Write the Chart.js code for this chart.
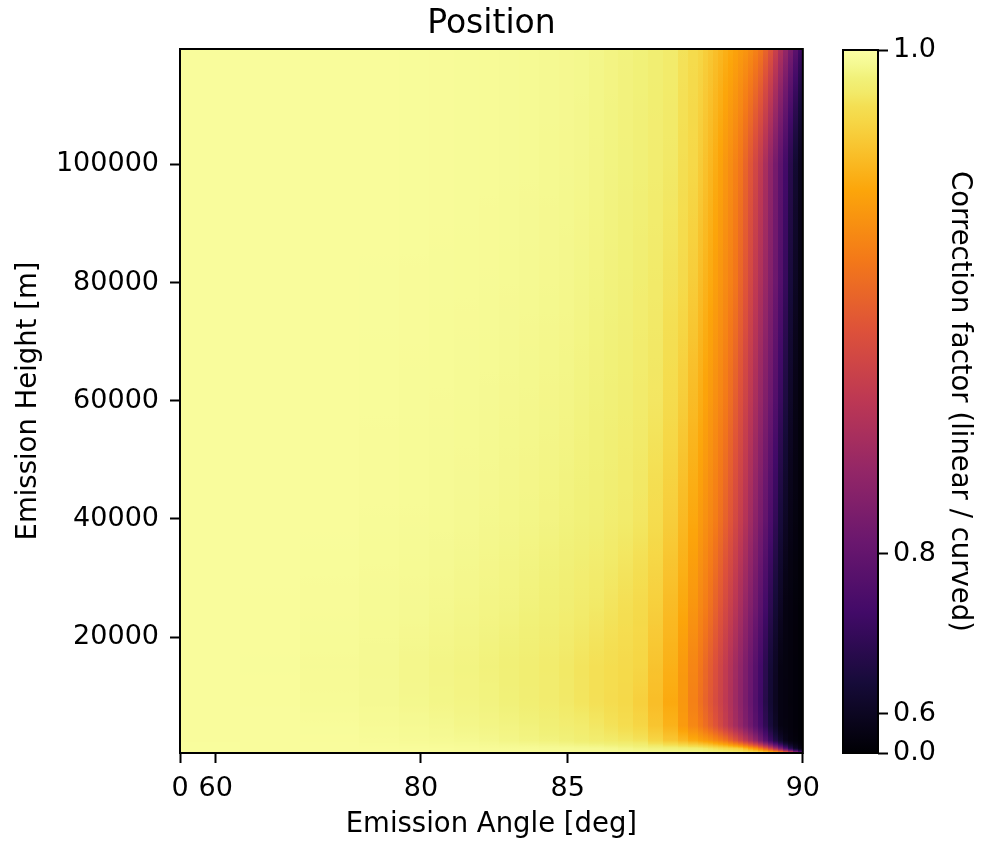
<!DOCTYPE html>
<html>
<head>
<meta charset="utf-8">
<title>Position</title>
<script src="https://cdn.jsdelivr.net/npm/chart.js@4.4.1/dist/chart.umd.min.js"></script>
<style>
  body { margin: 0; background: #fff; }
  #wrap { position: relative; width: 988px; height: 841px; }
  #main { position: absolute; left: 0; top: 0; }
  #cbar { position: absolute; left: 830px; top: 0; }
</style>
</head>
<body>
<div id="wrap">
  <canvas id="main" width="830" height="841"></canvas>
  <canvas id="cbar" width="158" height="841"></canvas>
</div>
<script>
// Grid: heights (rows, top to bottom) and column edges in grid index units
const heights = [119500, 100000, 80000, 60000, 40000, 25000, 15000, 9000, 5000, 2500, 1200, 400];
const colEdges = [0, 12, 24, 36, 44, 50, 55, 60, 64, 68, 72, 76, 79, 82, 85, 88, 91, 94, 97, 100, 102, 104,
  105, 106, 107, 108, 109, 110, 111, 112, 113, 114, 115, 116, 117, 118, 119, 120, 121, 122, 123, 124, 125];

// Tick labels
const angleTicks = [0, 60, 80, 85, 90];
const angleTickCols = [0, 7.16, 48.35, 77.8, 125];
const heightTicks = [20000, 40000, 60000, 80000, 100000];
const cbTicks = [0.0, 0.6, 0.8, 1.0];

// Correction factor (linear / curved), one row per height
const row119500 = [.9985,.9984,.9983,.9983,.9981,.9979,.9977,.9974,.9972,.9968,.9965,.9962,.9959,.9951,.9943,.9935,.9927,.9913,.9898,.9863,.9834,.9811,.9781,.9752,.9722,.9691,.9660,.9630,.9598,.9565,.9535,.9491,.9438,.9376,.9271,.9146,.8961,.8744,.8516,.8248,.7906,.7484];
const row100000 = [.9985,.9984,.9983,.9983,.9981,.9979,.9977,.9974,.9972,.9968,.9963,.9960,.9956,.9948,.9940,.9932,.9923,.9907,.9888,.9851,.9820,.9770,.9730,.9689,.9647,.9598,.9547,.9495,.9439,.9374,.9272,.9164,.9032,.8888,.8698,.8473,.8215,.7914,.7551,.7067,.6494,.5846];
const row80000 = [.9985,.9984,.9983,.9982,.9979,.9976,.9974,.9972,.9968,.9964,.9960,.9956,.9949,.9941,.9933,.9925,.9910,.9892,.9865,.9829,.9773,.9713,.9673,.9629,.9583,.9535,.9485,.9434,.9374,.9272,.9164,.9032,.8885,.8728,.8553,.8344,.8101,.7779,.7350,.6715,.6088,.5376];
const row60000 = [.9985,.9984,.9983,.9980,.9976,.9973,.9970,.9966,.9961,.9957,.9952,.9947,.9939,.9931,.9923,.9912,.9897,.9879,.9836,.9777,.9705,.9648,.9601,.9554,.9506,.9454,.9401,.9318,.9222,.9118,.8991,.8854,.8692,.8517,.8320,.8099,.7779,.7372,.6844,.6222,.5508,.4906];
const row40000 = [.9985,.9984,.9983,.9977,.9973,.9969,.9964,.9959,.9954,.9949,.9942,.9934,.9927,.9920,.9908,.9895,.9879,.9839,.9778,.9698,.9626,.9561,.9515,.9464,.9412,.9339,.9251,.9160,.9050,.8929,.8790,.8621,.8435,.8233,.7990,.7683,.7279,.6708,.6165,.5545,.5134,.4484];
const row25000 = [.9985,.9983,.9978,.9970,.9965,.9959,.9952,.9946,.9941,.9931,.9921,.9911,.9899,.9886,.9871,.9853,.9830,.9784,.9705,.9626,.9537,.9464,.9412,.9339,.9251,.9158,.9054,.8945,.8825,.8676,.8513,.8333,.8134,.7875,.7548,.7138,.6592,.6057,.5290,.5026,.4628,.4101];
const row15000 = [.9985,.9982,.9972,.9965,.9955,.9947,.9941,.9932,.9922,.9911,.9901,.9886,.9871,.9857,.9843,.9829,.9811,.9737,.9660,.9555,.9458,.9375,.9294,.9209,.9119,.9011,.8897,.8772,.8631,.8478,.8296,.8093,.7839,.7545,.7138,.6599,.6091,.5350,.5130,.4848,.4495,.3915];
const row9000 = [.9985,.9983,.9974,.9966,.9958,.9950,.9944,.9938,.9927,.9915,.9904,.9889,.9873,.9858,.9841,.9825,.9787,.9715,.9631,.9546,.9433,.9342,.9261,.9174,.9080,.8979,.8872,.8745,.8601,.8441,.8255,.8045,.7782,.7471,.7035,.6509,.5958,.5305,.5090,.4802,.4466,.3901];
const row5000 = [.9985,.9984,.9981,.9973,.9967,.9961,.9953,.9947,.9941,.9932,.9920,.9909,.9900,.9882,.9864,.9842,.9811,.9742,.9668,.9562,.9471,.9400,.9326,.9243,.9157,.9047,.8926,.8799,.8661,.8512,.8333,.8134,.7891,.7606,.7223,.6701,.6145,.5350,.5130,.4848,.4495,.3915];
const row2500 = [.9985,.9984,.9983,.9978,.9973,.9969,.9965,.9958,.9950,.9943,.9936,.9927,.9916,.9905,.9894,.9883,.9869,.9811,.9753,.9698,.9643,.9601,.9573,.9540,.9488,.9434,.9372,.9272,.9164,.9032,.8885,.8711,.8515,.8234,.7890,.7465,.6963,.6392,.5678,.5149,.4744,.4166];
const row1200 = [.9986,.9985,.9984,.9983,.9982,.9980,.9978,.9975,.9973,.9972,.9969,.9968,.9966,.9965,.9959,.9951,.9942,.9934,.9926,.9919,.9913,.9907,.9891,.9874,.9858,.9842,.9825,.9808,.9790,.9765,.9689,.9609,.9526,.9390,.9221,.9000,.8707,.8310,.7789,.7069,.6246,.5446];
const row400 = [.9986,.9985,.9984,.9984,.9983,.9983,.9983,.9982,.9982,.9980,.9978,.9977,.9975,.9974,.9972,.9971,.9970,.9968,.9967,.9966,.9965,.9964,.9959,.9955,.9950,.9946,.9941,.9937,.9932,.9928,.9923,.9918,.9914,.9906,.9873,.9840,.9806,.9761,.9628,.9465,.9108,.8518];
const rows = [row119500, row100000, row80000, row60000, row40000, row25000, row15000, row9000, row5000, row2500, row1200, row400];

const GAMMA = 5.65; // power norm of the colour scale
const FONT = 'DejaVu Sans';
// inferno colour map: [position, colour]
const inferno = [
  [0.0, '#000004'], [0.1, '#160b39'], [0.2, '#420a68'], [0.3, '#6a176e'], [0.4, '#932667'],
  [0.5, '#bc3754'], [0.6, '#dd513a'], [0.7, '#f37819'], [0.8, '#fca50a'], [0.9, '#f6d746'],
  [0.92, '#f4df53'], [0.94, '#f2ea69'], [0.96, '#f1f179'], [0.98, '#f5f992'], [1.0, '#fcffa4']
];

function hexToRgb(h) {
  return [parseInt(h.slice(1, 3), 16), parseInt(h.slice(3, 5), 16), parseInt(h.slice(5, 7), 16)];
}
const infernoRgb = inferno.map(s => [s[0], hexToRgb(s[1])]);

function colourAt(t) {
  t = Math.min(1, Math.max(0, t));
  let k = 0;
  while (k < infernoRgb.length - 2 && t > infernoRgb[k + 1][0]) k++;
  const [t0, a] = infernoRgb[k];
  const [t1, b] = infernoRgb[k + 1];
  const f = (t - t0) / (t1 - t0);
  return `rgb(${Math.round(a[0] + (b[0] - a[0]) * f)},${Math.round(a[1] + (b[1] - a[1]) * f)},${Math.round(a[2] + (b[2] - a[2]) * f)})`;
}

const heatmapPlugin = {
  id: 'heatmap',
  beforeDraw(chart) {
    const { ctx, scales: { x, y } } = chart;
    const yTop = y.getPixelForValue(heights[0]);
    const yBot = y.getPixelForValue(heights[heights.length - 1]);
    const span = yBot - yTop;
    ctx.save();
    for (let j = 0; j < colEdges.length - 1; j++) {
      const x0 = Math.round(x.getPixelForValue(colEdges[j]));
      const x1 = Math.round(x.getPixelForValue(colEdges[j + 1]));
      const grad = ctx.createLinearGradient(0, yTop, 0, yBot);
      for (let r = 0; r < heights.length - 1; r++) {
        const p0 = y.getPixelForValue(heights[r]);
        const p1 = y.getPixelForValue(heights[r + 1]);
        const v0 = rows[r][j], v1 = rows[r + 1][j];
        for (let s = 0; s <= 8; s++) {
          const f = s / 8;
          const pos = Math.min(1, Math.max(0, (p0 + (p1 - p0) * f - yTop) / span));
          grad.addColorStop(pos, colourAt(Math.pow(v0 + (v1 - v0) * f, GAMMA)));
        }
      }
      ctx.fillStyle = grad;
      ctx.fillRect(x0, yTop, x1 - x0, span);
    }
    ctx.restore();
  }
};

const colorbarPlugin = {
  id: 'colorbar',
  beforeDraw(chart) {
    const { ctx, chartArea: a, scales: { y } } = chart;
    const g = ctx.createLinearGradient(0, y.getPixelForValue(0), 0, y.getPixelForValue(1));
    inferno.forEach(s => g.addColorStop(s[0], s[1]));
    ctx.save();
    ctx.fillStyle = g;
    ctx.fillRect(a.left, a.top, a.right - a.left, a.bottom - a.top);
    ctx.restore();
  }
};

const framePlugin = {
  id: 'frame',
  afterDraw(chart) {
    const { ctx, chartArea: a } = chart;
    ctx.save();
    ctx.strokeStyle = '#000';
    ctx.lineWidth = 2;
    ctx.strokeRect(a.left, a.top, a.right - a.left, a.bottom - a.top);
    ctx.restore();
  }
};

const tickFont = { family: FONT, size: 27 };
const labelFont = { family: FONT, size: 27.5 };
const tickGrid = { drawOnChartArea: false, tickLength: 10, tickWidth: 2, tickColor: '#000' };

new Chart(document.getElementById('main'), {
  type: 'scatter',
  data: { datasets: [] },
  options: {
    responsive: false,
    animation: false,
    layout: { padding: { left: 0, right: 27, top: 0, bottom: 0 } },
    plugins: {
      legend: { display: false },
      tooltip: { enabled: false },
      title: {
        display: true,
        text: 'Position',
        color: '#000',
        fullSize: false,
        font: { family: FONT, size: 33, weight: 'normal' },
        padding: { top: 5, bottom: 4.4 }
      }
    },
    scales: {
      x: {
        type: 'linear',
        min: 0,
        max: 125,
        border: { display: false },
        grid: tickGrid,
        ticks: {
          autoSkip: false,
          maxRotation: 0,
          padding: 10,
          color: '#000',
          font: tickFont,
          callback: (v, i) => angleTicks[i]
        },
        afterBuildTicks: s => { s.ticks = angleTickCols.map(v => ({ value: v })); },
        afterFit: s => { s.height = 88; },
        title: {
          display: true,
          text: 'Emission Angle [deg]',
          color: '#000',
          font: labelFont,
          padding: { top: 0, bottom: 0 }
        }
      },
      y: {
        type: 'linear',
        min: 400,
        max: 119500,
        border: { display: false },
        grid: tickGrid,
        ticks: {
          autoSkip: false,
          padding: 11,
          color: '#000',
          font: tickFont,
          callback: v => String(v)
        },
        afterBuildTicks: s => { s.ticks = heightTicks.map(v => ({ value: v })); },
        afterFit: s => { s.width = 180; },
        title: {
          display: true,
          text: 'Emission Height [m]',
          color: '#000',
          font: labelFont,
          padding: { top: 12, bottom: 0 }
        }
      }
    }
  },
  plugins: [heatmapPlugin, framePlugin]
});

new Chart(document.getElementById('cbar'), {
  type: 'scatter',
  data: { datasets: [] },
  options: {
    responsive: false,
    animation: false,
    layout: { padding: { left: 13, right: 0, top: 50, bottom: 88 } },
    plugins: { legend: { display: false }, tooltip: { enabled: false } },
    scales: {
      x: { display: false, min: 0, max: 1 },
      y: {
        position: 'right',
        min: 0,
        max: 1,
        border: { display: false },
        grid: tickGrid,
        ticks: {
          autoSkip: false,
          padding: 5,
          color: '#000',
          font: tickFont,
          callback: (v, i) => cbTicks[i].toFixed(1)
        },
        afterBuildTicks: s => { s.ticks = cbTicks.map(v => ({ value: Math.pow(v, GAMMA) })); },
        afterFit: s => { s.width = 110; },
        title: {
          display: true,
          text: 'Correction factor (linear / curved)',
          color: '#000',
          font: labelFont,
          padding: { top: 12, bottom: 0 }
        }
      }
    }
  },
  plugins: [colorbarPlugin, framePlugin]
});
</script>
</body>
</html>
